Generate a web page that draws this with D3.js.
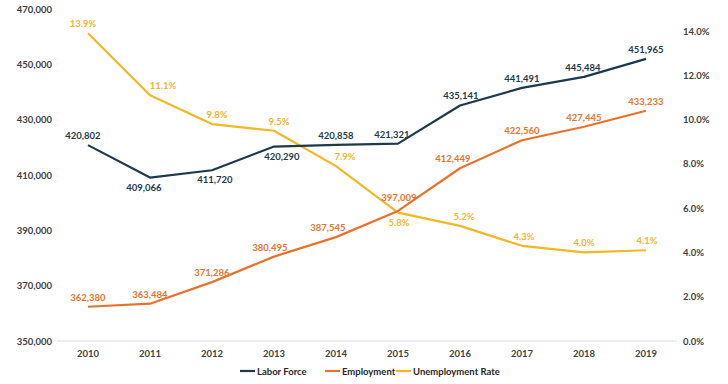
<!DOCTYPE html>
<html lang="en">
<head>
    <meta charset="UTF-8">
    <script src="https://d3js.org/d3.v7.min.js"></script>
    <title>Labor Force</title>
    <style>
      body { margin: 0; background: #fff; }
      text { font-family: Lato, "Open Sans", sans-serif; }
    </style>
</head>
<body>
    <svg width="728" height="384" id="chart"></svg>
    <script type="text/javascript">
      // data
      var years = ["2010", "2011", "2012", "2013", "2014", "2015", "2016", "2017", "2018", "2019"];
      var laborForce = [420802, 409066, 411720, 420290, 420858, 421321, 435141, 441491, 445484, 451965];
      var employment = [362380, 363484, 371286, 380495, 387545, 397009, 412449, 422560, 427445, 433233];
      var unemploymentRate = [13.9, 11.1, 9.8, 9.5, 7.9, 5.8, 5.2, 4.3, 4.0, 4.1];
      var leftTicks = [350000, 370000, 390000, 410000, 430000, 450000, 470000];
      var rightTicks = [0, 2, 4, 6, 8, 10, 12, 14];

      // label placement (which labels sit under the point, small nudges)
      var lfBelow = [false, true, true, true, false, false, false, false, false, false];
      var lfDx = [-5, -6, 3, 8, 0, -6, 1, 0, -1, 0];
      var lfDy = [0, 0, 0, 0, 0, 0, 0, 0, 0, 0];
      var empBelow = [false, false, false, false, false, false, false, false, false, false];
      var empDx = [0, 0, 0, -4, -8, 1, -7, 0, 0, 0];
      var empDy = [0, 0, 0, 0, 0, -4, 0, 0, 0, 0];
      var urBelow = [false, false, false, false, false, true, false, false, false, false];
      var urDx = [-5, 13, 5, 5, 9, 1, 4, 2, 0, 1];
      var urDy = [0, 0, 0, 0, 0, 0, 0, 0, 0, 0];

      var navy = "#1d3a4b", orange = "#e8722c", gold = "#f3b724";

      var svg = d3.select("#chart");
      var x = d3.scaleBand().domain(years).range([57, 677]);
      var yL = d3.scaleLinear().domain([350000, 470000]).range([341, 9]);
      var yR = d3.scaleLinear().domain([0, 15]).range([341, 9]);
      var cx = function(i) { return x(years[i]) + x.bandwidth() / 2; };
      var fmt = d3.format(",");

      // baseline
      svg.append("line")
        .attr("x1", 57).attr("x2", 677)
        .attr("y1", yL(350000)).attr("y2", yL(350000))
        .attr("stroke", "#d9d9d9").attr("stroke-width", 1);

      // left axis
      var gL = svg.append("g")
        .attr("transform", "translate(52,0)")
        .call(d3.axisLeft(yL).tickValues(leftTicks).tickFormat(fmt).tickSize(0).tickPadding(0));
      gL.select(".domain").remove();

      // right axis
      var gR = svg.append("g")
        .attr("transform", "translate(683,0)")
        .call(d3.axisRight(yR).tickValues(rightTicks).tickFormat(function(d) { return d.toFixed(1) + "%"; }).tickSize(0).tickPadding(0));
      gR.select(".domain").remove();

      // bottom axis
      var gB = svg.append("g")
        .attr("transform", "translate(0,347)")
        .call(d3.axisBottom(x).tickSize(0).tickPadding(3));
      gB.select(".domain").remove();

      svg.selectAll(".tick text")
        .attr("fill", "#404040")
        .style("font-size", "9.5px")
        .style("font-weight", "700")
        .style("font-family", "Lato, sans-serif");

      function drawSeries(values, scale, color, below, dx, dy, labelFmt, labelColor) {
        var line = d3.line()
          .x(function(d, i) { return cx(i); })
          .y(function(d) { return scale(d); });
        svg.append("path")
          .datum(values)
          .attr("d", line)
          .attr("fill", "none")
          .attr("stroke", color)
          .attr("stroke-width", 2.2)
          .attr("stroke-linejoin", "round");
        svg.append("g").selectAll("text")
          .data(values)
          .join("text")
          .attr("x", function(d, i) { return cx(i) + dx[i]; })
          .attr("y", function(d, i) { return scale(d) + (below[i] ? 13 : -6) + dy[i]; })
          .attr("text-anchor", "middle")
          .attr("fill", labelColor)
          .style("font-size", "9.5px")
          .style("font-weight", "700")
          .text(labelFmt);
      }

      drawSeries(unemploymentRate, yR, gold, urBelow, urDx, urDy, function(d) { return d.toFixed(1) + "%"; }, "#f0b42e");
      drawSeries(employment, yL, orange, empBelow, empDx, empDy, fmt, orange);
      drawSeries(laborForce, yL, navy, lfBelow, lfDx, lfDy, fmt, navy);

      // legend
      var legendItems = [
        { name: "Labor Force", color: navy, x: 240 },
        { name: "Employment", color: orange, x: 325 },
        { name: "Unemployment Rate", color: gold, x: 396 }
      ];
      var lg = svg.append("g").selectAll("g")
        .data(legendItems)
        .join("g")
        .attr("transform", function(d) { return "translate(" + d.x + ",371)"; });
      lg.append("line")
        .attr("x1", 0).attr("x2", 15)
        .attr("stroke", function(d) { return d.color; })
        .attr("stroke-width", 2.2);
      lg.append("text")
        .attr("x", 17).attr("y", 3.5)
        .attr("fill", "#262626")
        .style("font-size", "9.5px")
        .style("font-weight", "700")
        .text(function(d) { return d.name; });
    </script>
</body>
</html>
